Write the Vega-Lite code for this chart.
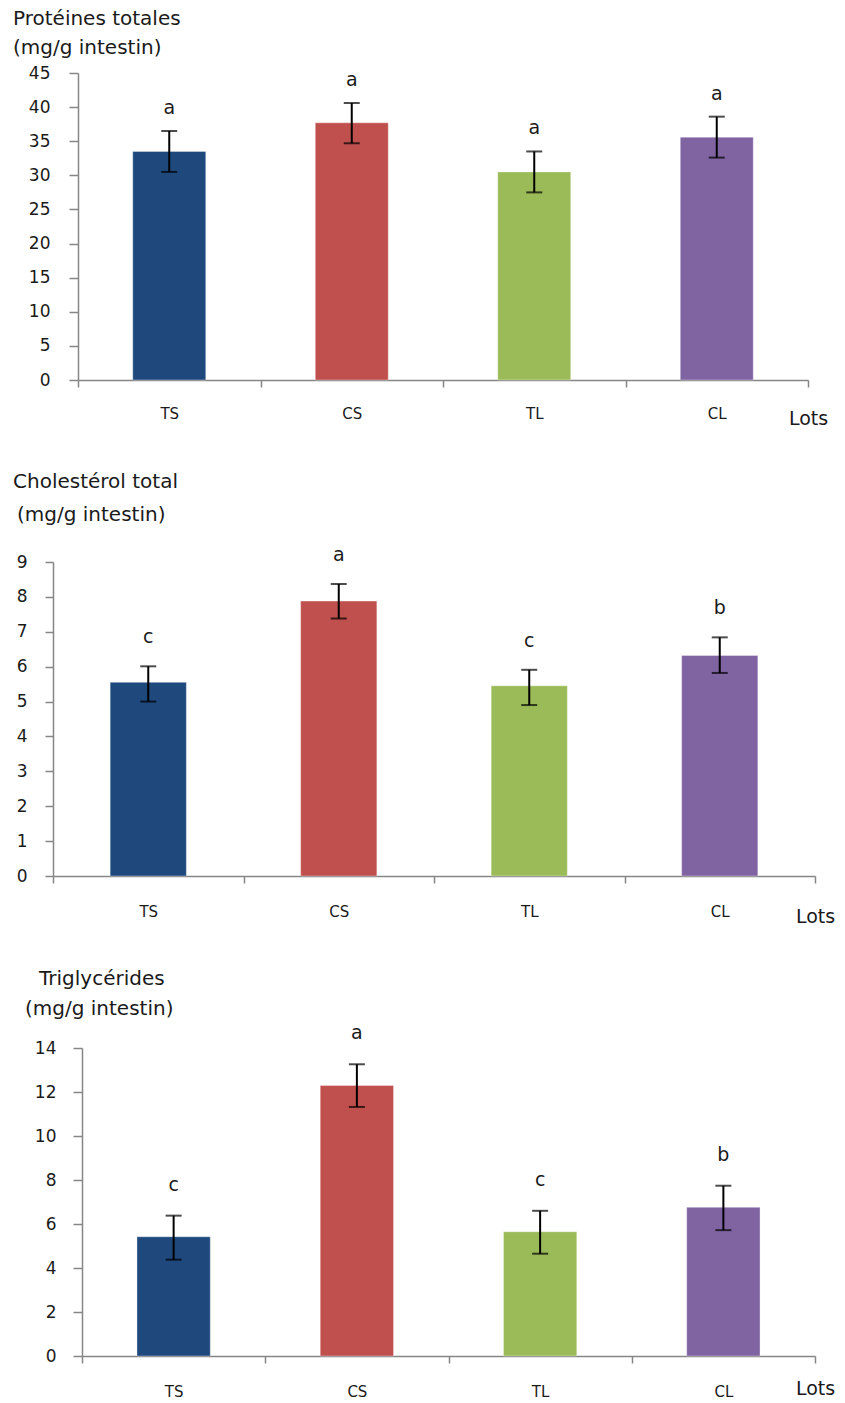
{
  "$schema": "https://vega.github.io/schema/vega-lite/v6.json",
  "padding": {"left": 13, "top": 9, "right": 0, "bottom": 0},
  "spacing": 43,
  "align": "none",
  "datasets": {
    "p1": [
      {"lot": "TS", "mean": 33.5, "low": 30.5, "high": 36.5, "letter": "a"},
      {"lot": "CS", "mean": 37.7, "low": 34.7, "high": 40.6, "letter": "a"},
      {"lot": "TL", "mean": 30.5, "low": 27.5, "high": 33.5, "letter": "a"},
      {"lot": "CL", "mean": 35.6, "low": 32.6, "high": 38.6, "letter": "a"}
    ],
    "p2": [
      {"lot": "TS", "mean": 5.55, "low": 5.0, "high": 6.01, "letter": "c"},
      {"lot": "CS", "mean": 7.88, "low": 7.38, "high": 8.37, "letter": "a"},
      {"lot": "TL", "mean": 5.45, "low": 4.9, "high": 5.91, "letter": "c"},
      {"lot": "CL", "mean": 6.32, "low": 5.82, "high": 6.84, "letter": "b"}
    ],
    "p3": [
      {"lot": "TS", "mean": 5.42, "low": 4.38, "high": 6.38, "letter": "c"},
      {"lot": "CS", "mean": 12.3, "low": 11.32, "high": 13.26, "letter": "a"},
      {"lot": "TL", "mean": 5.65, "low": 4.65, "high": 6.6, "letter": "c"},
      {"lot": "CL", "mean": 6.76, "low": 5.72, "high": 7.74, "letter": "b"}
    ]
  },
  "vconcat": [
    {
      "width": 755,
      "height": 307,
      "data": {"name": "p1"},
      "title": {"text": ["Protéines totales", "(mg/g intestin)"], "anchor": "start", "frame": "group", "dx": -40, "offset": 6, "fontSize": 20, "fontWeight": "normal", "font": "DejaVu Sans", "lineHeight": 29, "color": "#1a1a1a"},
      "encoding": {
        "x": {"field": "lot", "type": "nominal", "sort": ["TS", "CS", "TL", "CL"], "scale": {"paddingInner": 0, "paddingOuter": 0, "rangeMin": 25},
          "axis": {"title": "Lots", "labelAngle": 0, "tickBand": "extent", "tickSize": 7, "labelPadding": 19, "labelFontSize": 15, "titleAnchor": "end", "titleAlign": "center", "titlePadding": -12, "titleFontSize": 19, "titleFontWeight": "normal", "titleFont": "DejaVu Sans", "titleColor": "#1a1a1a"}}
      },
      "layer": [
        {"mark": {"type": "bar", "width": {"band": 0.4}, "stroke": "#ffffff", "strokeOpacity": 0.35, "strokeWidth": 1},
          "encoding": {"y": {"field": "mean", "type": "quantitative", "scale": {"domain": [0, 45]}, "axis": {"title": null, "offset": -25, "values": [0, 5, 10, 15, 20, 25, 30, 35, 40, 45], "tickSize": 9, "labelPadding": 19, "labelFontSize": 17}},
            "color": {"field": "lot", "type": "nominal", "scale": {"domain": ["TS", "CS", "TL", "CL"], "range": ["#1F497D", "#C0504D", "#9BBB59", "#8064A2"]}, "legend": null}}},
        {"mark": {"type": "rule", "color": "#000000", "strokeWidth": 2}, "encoding": {"y": {"field": "low", "type": "quantitative", "axis": {"title": null, "offset": -25, "values": [0, 5, 10, 15, 20, 25, 30, 35, 40, 45], "tickSize": 9, "labelPadding": 19, "labelFontSize": 17}}, "y2": {"field": "high"}}},
        {"mark": {"type": "tick", "color": "#000000", "thickness": 2, "size": 16}, "encoding": {"y": {"field": "low", "type": "quantitative", "axis": {"title": null, "offset": -25, "values": [0, 5, 10, 15, 20, 25, 30, 35, 40, 45], "tickSize": 9, "labelPadding": 19, "labelFontSize": 17}}}},
        {"mark": {"type": "tick", "color": "#000000", "thickness": 2, "size": 16}, "encoding": {"y": {"field": "high", "type": "quantitative", "axis": {"title": null, "offset": -25, "values": [0, 5, 10, 15, 20, 25, 30, 35, 40, 45], "tickSize": 9, "labelPadding": 19, "labelFontSize": 17}}}},
        {"mark": {"type": "text", "baseline": "alphabetic", "dy": -17, "fontSize": 19, "font": "DejaVu Sans", "color": "#1a1a1a"}, "encoding": {"y": {"field": "high", "type": "quantitative", "axis": {"title": null, "offset": -25, "values": [0, 5, 10, 15, 20, 25, 30, 35, 40, 45], "tickSize": 9, "labelPadding": 19, "labelFontSize": 17}}, "text": {"field": "letter"}}}
      ]
    },
    {
      "width": 762,
      "height": 314,
      "data": {"name": "p2"},
      "title": {"text": ["Cholestérol total", "\u200b\u2009(mg/g intestin)"], "anchor": "start", "frame": "group", "dx": -40, "offset": 21, "fontSize": 20, "fontWeight": "normal", "font": "DejaVu Sans", "lineHeight": 33, "color": "#1a1a1a"},
      "encoding": {
        "x": {"field": "lot", "type": "nominal", "sort": ["TS", "CS", "TL", "CL"], "scale": {"paddingInner": 0, "paddingOuter": 0},
          "axis": {"title": "Lots", "labelAngle": 0, "tickBand": "extent", "tickSize": 7, "labelPadding": 21, "labelFontSize": 15, "titleAnchor": "end", "titleAlign": "center", "titlePadding": -12, "titleFontSize": 19, "titleFontWeight": "normal", "titleFont": "DejaVu Sans", "titleColor": "#1a1a1a"}}
      },
      "layer": [
        {"mark": {"type": "bar", "width": {"band": 0.4}, "stroke": "#ffffff", "strokeOpacity": 0.35, "strokeWidth": 1},
          "encoding": {"y": {"field": "mean", "type": "quantitative", "scale": {"domain": [0, 9]}, "axis": {"title": null, "values": [0, 1, 2, 3, 4, 5, 6, 7, 8, 9], "tickSize": 8, "labelPadding": 18, "labelFontSize": 17}},
            "color": {"field": "lot", "type": "nominal", "scale": {"domain": ["TS", "CS", "TL", "CL"], "range": ["#1F497D", "#C0504D", "#9BBB59", "#8064A2"]}, "legend": null}}},
        {"mark": {"type": "rule", "color": "#000000", "strokeWidth": 2}, "encoding": {"y": {"field": "low", "type": "quantitative", "axis": {"title": null, "values": [0, 1, 2, 3, 4, 5, 6, 7, 8, 9], "tickSize": 8, "labelPadding": 18, "labelFontSize": 17}}, "y2": {"field": "high"}}},
        {"mark": {"type": "tick", "color": "#000000", "thickness": 2, "size": 16}, "encoding": {"y": {"field": "low", "type": "quantitative", "axis": {"title": null, "values": [0, 1, 2, 3, 4, 5, 6, 7, 8, 9], "tickSize": 8, "labelPadding": 18, "labelFontSize": 17}}}},
        {"mark": {"type": "tick", "color": "#000000", "thickness": 2, "size": 16}, "encoding": {"y": {"field": "high", "type": "quantitative", "axis": {"title": null, "values": [0, 1, 2, 3, 4, 5, 6, 7, 8, 9], "tickSize": 8, "labelPadding": 18, "labelFontSize": 17}}}},
        {"mark": {"type": "text", "baseline": "alphabetic", "dy": -23, "fontSize": 19, "font": "DejaVu Sans", "color": "#1a1a1a"}, "encoding": {"y": {"field": "high", "type": "quantitative", "axis": {"title": null, "values": [0, 1, 2, 3, 4, 5, 6, 7, 8, 9], "tickSize": 8, "labelPadding": 18, "labelFontSize": 17}}, "text": {"field": "letter"}}}
      ]
    },
    {
      "width": 762,
      "height": 308,
      "data": {"name": "p3"},
      "title": {"text": ["\u200b\u2002\u2009Triglycérides", "(mg/g intestin)"], "anchor": "start", "frame": "group", "dx": -28, "offset": 5, "fontSize": 20, "fontWeight": "normal", "font": "DejaVu Sans", "lineHeight": 30, "color": "#1a1a1a"},
      "encoding": {
        "x": {"field": "lot", "type": "nominal", "sort": ["TS", "CS", "TL", "CL"], "scale": {"paddingInner": 0, "paddingOuter": 0, "rangeMin": 29},
          "axis": {"title": "Lots", "labelAngle": 0, "tickBand": "extent", "tickSize": 7, "labelPadding": 21, "labelFontSize": 15, "titleAnchor": "end", "titleAlign": "center", "titlePadding": -20, "titleFontSize": 19, "titleFontWeight": "normal", "titleFont": "DejaVu Sans", "titleColor": "#1a1a1a"}}
      },
      "layer": [
        {"mark": {"type": "bar", "width": {"band": 0.4}, "stroke": "#ffffff", "strokeOpacity": 0.35, "strokeWidth": 1},
          "encoding": {"y": {"field": "mean", "type": "quantitative", "scale": {"domain": [0, 14]}, "axis": {"title": null, "offset": -29, "values": [0, 2, 4, 6, 8, 10, 12, 14], "tickSize": 9, "labelPadding": 17, "labelFontSize": 17}},
            "color": {"field": "lot", "type": "nominal", "scale": {"domain": ["TS", "CS", "TL", "CL"], "range": ["#1F497D", "#C0504D", "#9BBB59", "#8064A2"]}, "legend": null}}},
        {"mark": {"type": "rule", "color": "#000000", "strokeWidth": 2}, "encoding": {"y": {"field": "low", "type": "quantitative", "axis": {"title": null, "offset": -29, "values": [0, 2, 4, 6, 8, 10, 12, 14], "tickSize": 9, "labelPadding": 17, "labelFontSize": 17}}, "y2": {"field": "high"}}},
        {"mark": {"type": "tick", "color": "#000000", "thickness": 2, "size": 16}, "encoding": {"y": {"field": "low", "type": "quantitative", "axis": {"title": null, "offset": -29, "values": [0, 2, 4, 6, 8, 10, 12, 14], "tickSize": 9, "labelPadding": 17, "labelFontSize": 17}}}},
        {"mark": {"type": "tick", "color": "#000000", "thickness": 2, "size": 16}, "encoding": {"y": {"field": "high", "type": "quantitative", "axis": {"title": null, "offset": -29, "values": [0, 2, 4, 6, 8, 10, 12, 14], "tickSize": 9, "labelPadding": 17, "labelFontSize": 17}}}},
        {"mark": {"type": "text", "baseline": "alphabetic", "dy": -25, "fontSize": 19, "font": "DejaVu Sans", "color": "#1a1a1a"}, "encoding": {"y": {"field": "high", "type": "quantitative", "axis": {"title": null, "offset": -29, "values": [0, 2, 4, 6, 8, 10, 12, 14], "tickSize": 9, "labelPadding": 17, "labelFontSize": 17}}, "text": {"field": "letter"}}}
      ]
    }
  ],
  "config": {
    "view": {"stroke": null},
    "font": "DejaVu Sans",
    "axis": {"grid": false, "domainColor": "#868686", "tickColor": "#868686", "domainWidth": 1.5, "tickWidth": 1.5, "labelFont": "DejaVu Sans", "labelColor": "#1a1a1a"}
  }
}
